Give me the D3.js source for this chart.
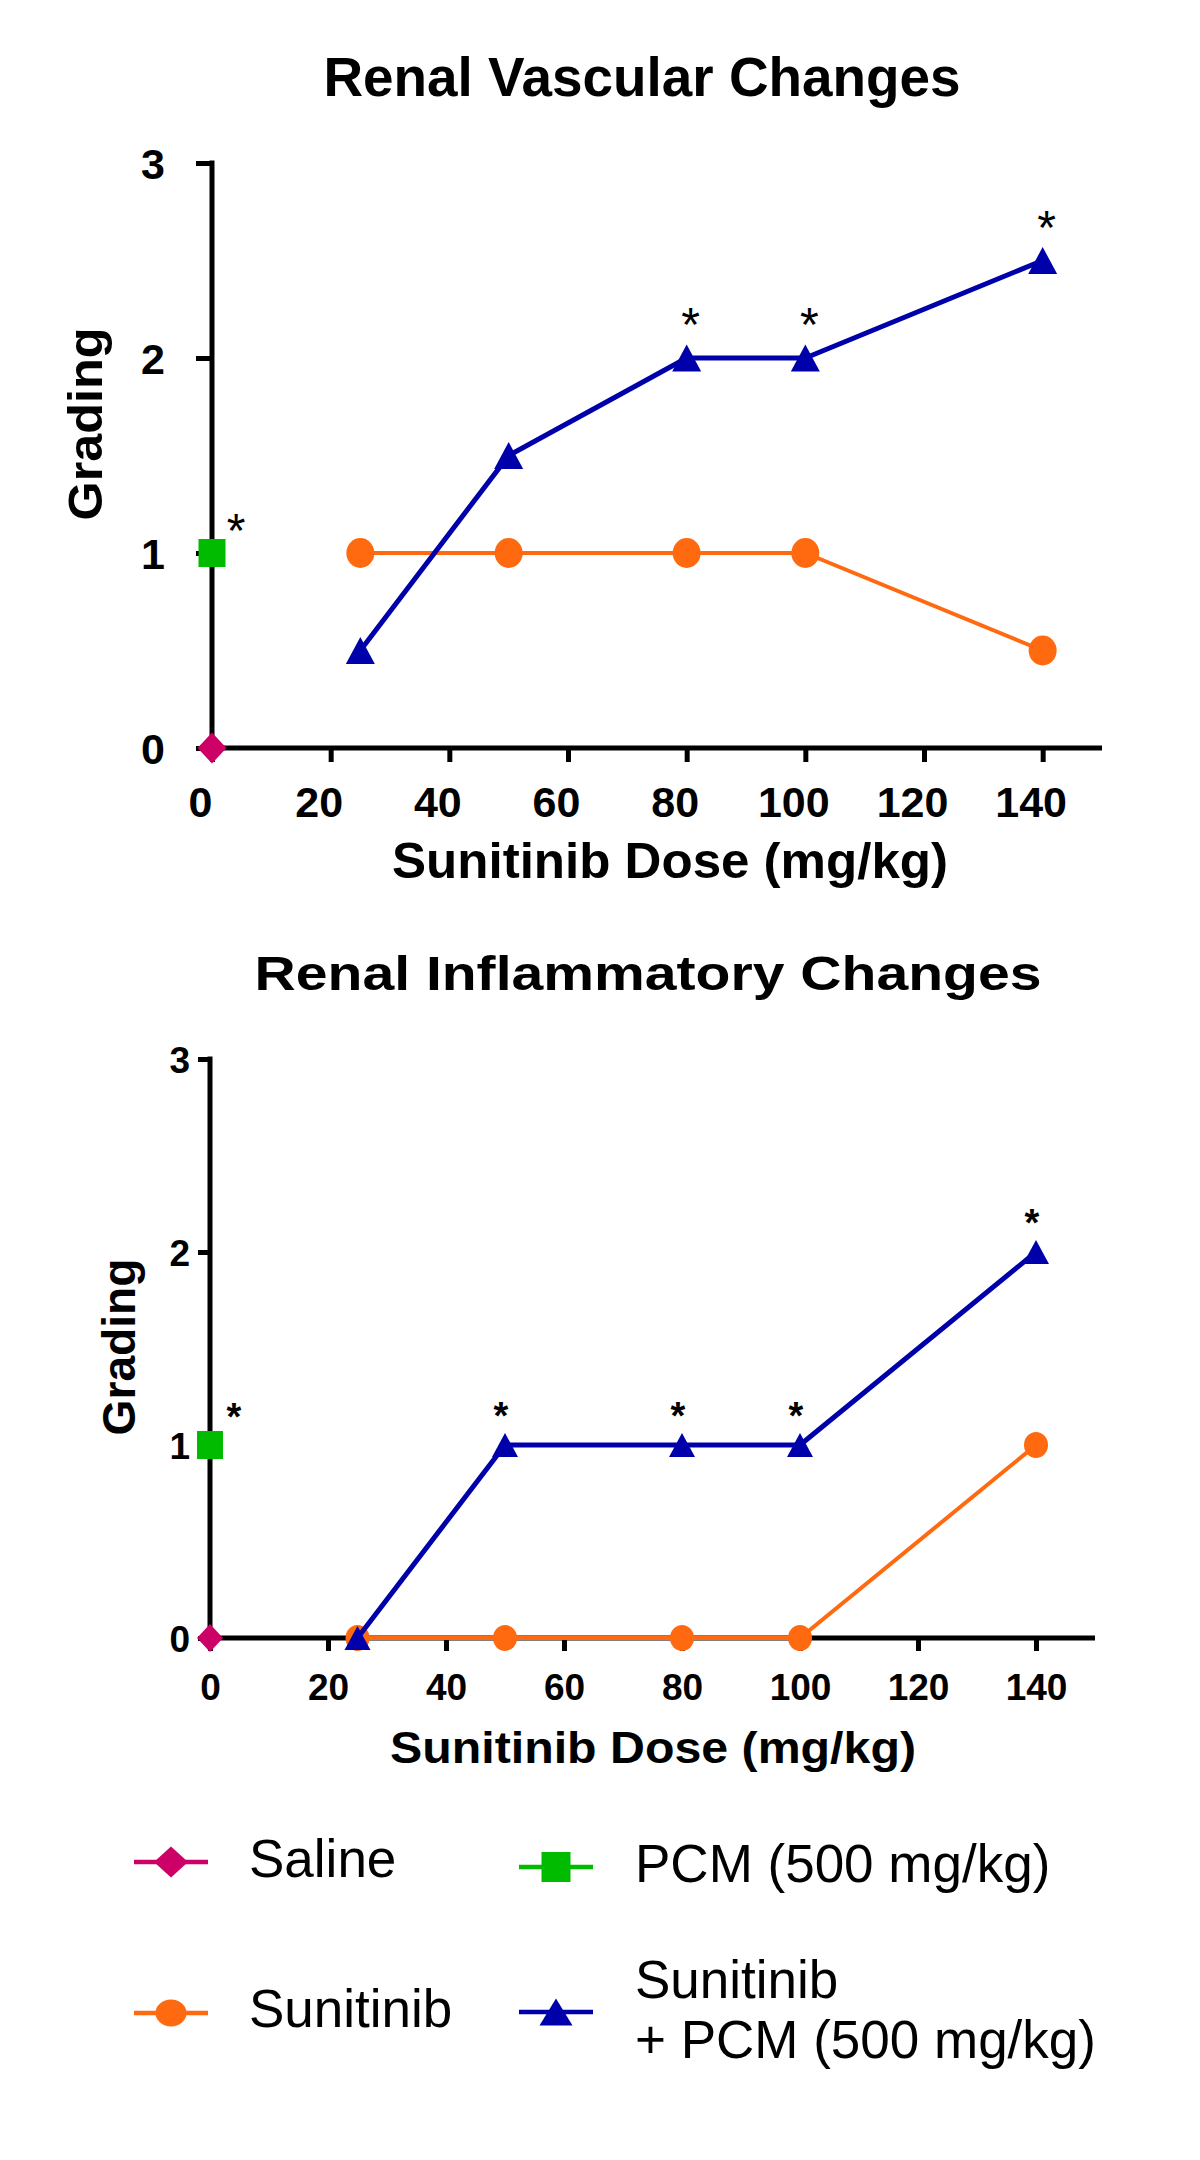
<!DOCTYPE html>
<html>
<head>
<meta charset="utf-8">
<script src="https://cdn.jsdelivr.net/npm/d3@7"></script>
<style>
  html, body { margin: 0; padding: 0; background: #ffffff; }
  svg { display: block; font-family: "Liberation Sans", Arial, Helvetica, sans-serif; }
</style>
</head>
<body>
<svg id="chart" width="1200" height="2160"></svg>
<script>
// ---------------- DATA ----------------
const doses = [25, 50, 80, 100, 140];
const xTicks = [0, 20, 40, 60, 80, 100, 120, 140];
const yTicks = [0, 1, 2, 3];

const vascSaline = [{x: 0, y: 0}];
const vascPCM = [{x: 0, y: 1}];
const vascSunitinib = [1, 1, 1, 1, 0.5];
const vascCombo = [0.5, 1.5, 2, 2, 2.5];
const vascComboStars = [80, 100, 140];
const vascPCMStar = true;

const inflSaline = [{x: 0, y: 0}];
const inflPCM = [{x: 0, y: 1}];
const inflSunitinib = [0, 0, 0, 0, 1];
const inflCombo = [0, 1, 1, 1, 2];
const inflComboStars = [50, 80, 100, 140];
const inflPCMStar = true;

const titles = ["Renal Vascular Changes", "Renal Inflammatory Changes"];
const xLabel = "Sunitinib Dose (mg/kg)";
const yLabel = "Grading";
const legendLabels = ["Saline", "PCM (500 mg/kg)", "Sunitinib", ["Sunitinib", "+ PCM (500 mg/kg)"]];

// ---------------- STYLE ----------------
const COL = {saline: "#cc0066", pcm: "#00bb00", sun: "#ff6a10", combo: "#0000aa"};

const svg = d3.select("#chart");

function markerPath(type, w, h) {
  const a = w / 2, b = h / 2;
  if (type === "diamond") return `M0,${-b}L${a},0L0,${b}L${-a},0Z`;
  if (type === "square") return `M${-a},${-b}H${a}V${b}H${-a}Z`;
  if (type === "triangle") return `M0,${-b}L${a},${b}L${-a},${b}Z`;
  return "";
}

function drawMarker(g, type, x, y, color, s) {
  if (type === "circle") {
    g.append("ellipse").attr("cx", x).attr("cy", y).attr("rx", s.circle[0] / 2).attr("ry", s.circle[1] / 2).attr("fill", color);
  } else {
    const dims = s[type];
    g.append("path").attr("d", markerPath(type, dims[0], dims[1]))
      .attr("transform", `translate(${x},${y})`).attr("fill", color);
  }
}

function drawPanel(cfg) {
  const g = svg.append("g");
  const x = d3.scaleLinear().domain([0, 150]).range(cfg.xRange);
  const y = d3.scaleLinear().domain([0, 3]).range(cfg.yRange);

  // X axis
  const xa = g.append("g").attr("transform", `translate(0,${cfg.yRange[0]})`)
    .call(d3.axisBottom(x).tickValues(xTicks).tickSize(cfg.xTickLen).tickSizeOuter(0).tickFormat(d3.format("d")));
  xa.select(".domain").attr("stroke", "#000").attr("stroke-width", cfg.axisW).attr("d", `M${cfg.xRange[0] - cfg.axisW/2},0H${cfg.xRange[1]}`);
  xa.selectAll(".tick line").attr("stroke", "#000").attr("stroke-width", cfg.tickW);
  xa.selectAll(".tick text").attr("fill", "#000").attr("font-size", cfg.tickFont).attr("font-weight", "bold")
    .attr("y", cfg.xLabelOffset).attr("dy", 0).attr("dx", cfg.xLabelDx);

  // Y axis
  const ya = g.append("g").attr("transform", `translate(${cfg.xRange[0]},0)`)
    .call(d3.axisLeft(y).tickValues(yTicks).tickSize(cfg.yTickLen).tickSizeOuter(0).tickFormat(d3.format("d")));
  ya.select(".domain").attr("stroke", "#000").attr("stroke-width", cfg.axisW).attr("d", `M0,${cfg.yRange[1] - cfg.tickW/2}V${cfg.yRange[0]}`);
  ya.selectAll(".tick line").attr("stroke", "#000").attr("stroke-width", cfg.tickW);
  ya.selectAll(".tick text").attr("fill", "#000").attr("font-size", cfg.tickFont).attr("font-weight", "bold")
    .attr("x", cfg.yLabelOffset).attr("dy", "0.36em");

  // Titles & labels
  g.append("text").attr("x", cfg.title.x).attr("y", cfg.title.y).attr("text-anchor", "middle")
    .attr("font-size", cfg.title.fs).attr("font-weight", "bold")
    .attr("textLength", cfg.title.len).attr("lengthAdjust", "spacingAndGlyphs").text(cfg.titleText);
  g.append("text").attr("x", cfg.xl.x).attr("y", cfg.xl.y).attr("text-anchor", "middle")
    .attr("font-size", cfg.xl.fs).attr("font-weight", "bold")
    .attr("textLength", cfg.xl.len).attr("lengthAdjust", "spacingAndGlyphs").text(xLabel);
  g.append("text").attr("transform", `translate(${cfg.yl.x},${cfg.yl.y}) rotate(-90)`).attr("text-anchor", "middle")
    .attr("font-size", cfg.yl.fs).attr("font-weight", "bold")
    .attr("textLength", cfg.yl.len).attr("lengthAdjust", "spacingAndGlyphs").text(yLabel);

  const line = d3.line().x(d => x(d.x)).y(d => y(d.y));
  const sunData = doses.map((d, i) => ({x: d, y: cfg.sun[i]}));
  const comboData = doses.map((d, i) => ({x: d, y: cfg.combo[i]}));

  // Sunitinib series
  g.append("path").datum(sunData).attr("d", line).attr("fill", "none").attr("stroke", COL.sun)
    .attr("stroke-width", cfg.sunW).attr("stroke-linejoin", "round");
  sunData.forEach(d => drawMarker(g, "circle", x(d.x), y(d.y), COL.sun, cfg.mk));

  // Combo series
  g.append("path").datum(comboData).attr("d", line).attr("fill", "none").attr("stroke", COL.combo)
    .attr("stroke-width", cfg.comboW).attr("stroke-linejoin", "round");
  comboData.forEach(d => drawMarker(g, "triangle", x(d.x), y(d.y), COL.combo, cfg.mk));

  // Saline & PCM
  cfg.pcm.forEach(d => drawMarker(g, "square", x(d.x), y(d.y), COL.pcm, cfg.mk));
  cfg.saline.forEach(d => drawMarker(g, "diamond", x(d.x), y(d.y), COL.saline, cfg.mk));

  // Significance stars
  cfg.comboStars.forEach(dose => {
    const i = doses.indexOf(dose);
    g.append("text").attr("x", x(dose) + cfg.star.dx).attr("y", y(cfg.combo[i]) + cfg.star.dy)
      .attr("text-anchor", "middle").attr("font-size", cfg.star.fs).attr("font-weight", cfg.star.fw).text("*");
  });
  if (cfg.pcmStar) {
    cfg.pcm.forEach(d => {
      g.append("text").attr("x", x(d.x) + cfg.star.pdx).attr("y", y(d.y) + cfg.star.pdy)
        .attr("text-anchor", "middle").attr("font-size", cfg.star.fs).attr("font-weight", cfg.star.fw).text("*");
    });
  }
}

// Top panel
drawPanel({
  xRange: [212, 1102], yRange: [748, 163],
  axisW: 5, tickW: 5, xTickLen: 14, yTickLen: 16,
  tickFont: 43, xLabelOffset: 69, xLabelDx: -12, yLabelOffset: -47,
  titleText: titles[0],
  title: {x: 642, y: 96, fs: 56, len: 637},
  xl: {x: 670, y: 878, fs: 50, len: 556},
  yl: {x: 102, y: 424, fs: 49, len: 193},
  sun: vascSunitinib, combo: vascCombo, saline: vascSaline, pcm: vascPCM,
  sunW: 4, comboW: 5,
  mk: {circle: [28, 30], triangle: [29, 27], square: [27, 28], diamond: [29, 31]},
  comboStars: vascComboStars, pcmStar: vascPCMStar,
  star: {fs: 48, fw: "normal", dx: 4, dy: -17, pdx: 24, pdy: -6}
});

// Bottom panel
drawPanel({
  xRange: [210, 1095], yRange: [1638, 1059],
  axisW: 5, tickW: 5, xTickLen: 13, yTickLen: 12,
  tickFont: 37, xLabelOffset: 62, xLabelDx: 0, yLabelOffset: -20,
  titleText: titles[1],
  title: {x: 648, y: 990, fs: 49, len: 787},
  xl: {x: 653, y: 1763, fs: 45, len: 526},
  yl: {x: 135, y: 1347, fs: 46, len: 177},
  sun: inflSunitinib, combo: inflCombo, saline: inflSaline, pcm: inflPCM,
  sunW: 4, comboW: 5,
  mk: {circle: [24, 26], triangle: [26, 24], square: [26, 28], diamond: [26, 28]},
  comboStars: inflComboStars, pcmStar: inflPCMStar,
  star: {fs: 38, fw: "bold", dx: -4, dy: -16, pdx: 24, pdy: -15}
});

// ---------------- LEGEND ----------------
const lg = svg.append("g");
const legendItems = [
  {type: "diamond", color: COL.saline, lx: 171, ly: 1862, tx: 249, ty: [1877], label: legendLabels[0]},
  {type: "square", color: COL.pcm, lx: 556, ly: 1867, tx: 635, ty: [1882], label: legendLabels[1]},
  {type: "circle", color: COL.sun, lx: 171, ly: 2013, tx: 249, ty: [2027], label: legendLabels[2]},
  {type: "triangle", color: COL.combo, lx: 556, ly: 2012, tx: 635, ty: [1998, 2058], label: legendLabels[3]}
];
const legMk = {circle: [31, 27], triangle: [33, 27], square: [29, 30], diamond: [34, 31]};
legendItems.forEach(it => {
  lg.append("line").attr("x1", it.lx - 37).attr("x2", it.lx + 37).attr("y1", it.ly).attr("y2", it.ly)
    .attr("stroke", it.color).attr("stroke-width", 4.5);
  drawMarker(lg, it.type, it.lx, it.ly, it.color, legMk);
  const labels = Array.isArray(it.label) ? it.label : [it.label];
  labels.forEach((t, i) => {
    lg.append("text").attr("x", it.tx).attr("y", it.ty[i]).attr("font-size", 53).attr("fill", "#000").text(t);
  });
});
</script>
</body>
</html>
